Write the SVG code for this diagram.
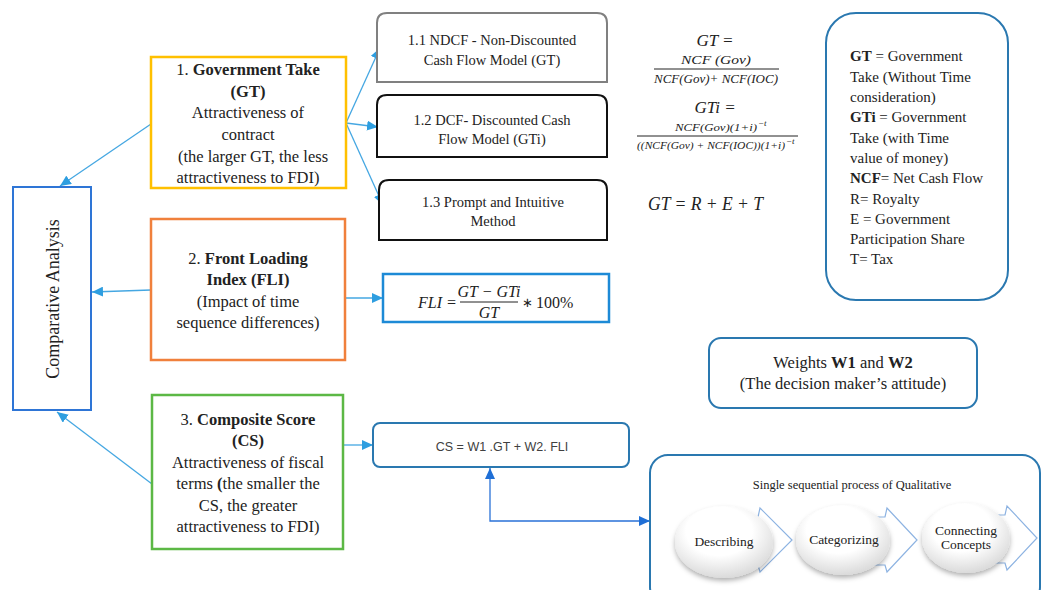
<svg xmlns="http://www.w3.org/2000/svg" width="1042" height="590" viewBox="0 0 1042 590">
<defs>
<style>
.t{font-family:"Liberation Serif","Times New Roman",serif;fill:#222;}
.m{font-family:"Liberation Serif","Times New Roman",serif;font-style:italic;fill:#222;}
.s{font-family:"Liberation Sans",Arial,sans-serif;fill:#404040;}
.b{font-weight:bold;}
.c{text-anchor:middle;}
.con{fill:none;stroke:#45a7e2;stroke-width:1.3;}
.dbl{fill:none;stroke:#2a72d8;stroke-width:1.3;}
.chev{fill:#fff;stroke:#8db3e2;stroke-width:1.2;}
</style>
<marker id="ah" markerUnits="userSpaceOnUse" markerWidth="12" markerHeight="10" refX="11" refY="5" orient="auto">
<path d="M0,0 L11,5 L0,10 z" fill="#2e9ee0"/>
</marker>
<marker id="ah2" markerUnits="userSpaceOnUse" markerWidth="12" markerHeight="10" refX="11" refY="5" orient="auto-start-reverse">
<path d="M0,0 L11,5 L0,10 z" fill="#1f6fd6"/>
</marker>
<radialGradient id="eg" cx="0.45" cy="0.35" r="0.75">
<stop offset="0.45" stop-color="#ffffff"/>
<stop offset="1" stop-color="#cfcfcf"/>
</radialGradient>
<filter id="sh" x="-20%" y="-20%" width="140%" height="150%">
<feDropShadow dx="0" dy="3" stdDeviation="2.5" flood-color="#000" flood-opacity="0.3"/>
</filter>
</defs>
<rect x="0" y="0" width="1042" height="590" fill="#fff"/>

<g id="connectors">
<path class="con" d="M151,124 L60,186" marker-end="url(#ah)"/>
<path class="con" d="M151,290 L92,292" marker-end="url(#ah)"/>
<path class="con" d="M152,484 L57,412" marker-end="url(#ah)"/>
<path class="con" d="M346,123 L380,48" marker-end="url(#ah)"/>
<path class="con" d="M346,123 L378,127" marker-end="url(#ah)"/>
<path class="con" d="M346,123 L383,205" marker-end="url(#ah)"/>
<path class="con" d="M345,298 L383,298" marker-end="url(#ah)"/>
<path class="con" d="M343,445 L373,445" marker-end="url(#ah)"/>
<path class="dbl" d="M490,468 V521 H650" marker-start="url(#ah2)" marker-end="url(#ah2)"/>
</g>

<g id="comparative">
<rect x="13" y="187" width="78" height="223" fill="#fff" stroke="#2e75d6" stroke-width="2"/>
<text class="t c" font-size="18" transform="translate(59,299) rotate(-90)">Comparative Analysis</text>
</g>

<g id="gt">
<rect x="151" y="57" width="195" height="131" fill="#fff" stroke="#ffc000" stroke-width="2.5"/>
<text class="t c" font-size="16.5" x="248" y="75">1. <tspan class="b">Government Take</tspan></text>
<text class="t c b" font-size="16.5" x="248" y="97">(GT)</text>
<text class="t c" font-size="16.5" x="248" y="118">Attractiveness of</text>
<text class="t c" font-size="16.5" x="248" y="140">contract</text>
<text class="t c" font-size="16.5" x="253" y="162">(the larger GT, the less</text>
<text class="t c" font-size="16.5" x="248" y="183">attractiveness to  FDI)</text>
</g>

<g id="fli">
<rect x="151" y="219" width="194" height="141" fill="#fff" stroke="#f0803c" stroke-width="2.5"/>
<text class="t c" font-size="16.5" x="248" y="264">2. <tspan class="b">Front Loading</tspan></text>
<text class="t c b" font-size="16.5" x="248" y="285">Index (FLI)</text>
<text class="t c" font-size="16.5" x="248" y="307">(Impact of time</text>
<text class="t c" font-size="16.5" x="248" y="328">sequence differences)</text>
</g>

<g id="cs">
<rect x="152" y="395" width="191" height="154" fill="#fff" stroke="#5cb845" stroke-width="2.5"/>
<text class="t c" font-size="16.5" x="248" y="425">3. <tspan class="b">Composite Score</tspan></text>
<text class="t c b" font-size="16.5" x="248" y="446">(CS)</text>
<text class="t c" font-size="16.5" x="248" y="468">Attractiveness of fiscal</text>
<text class="t c" font-size="16.5" x="248" y="489">terms <tspan class="b">(</tspan>the smaller the</text>
<text class="t c" font-size="16.5" x="248" y="511">CS, the greater</text>
<text class="t c" font-size="16.5" x="248" y="532">attractiveness to FDI)</text>
</g>

<g id="ndcf">
<path d="M377,82 V23 Q377,13 387,13 H597 Q607,13 607,23 V82 Z" fill="#fff" stroke="#808080" stroke-width="2"/>
<text class="t c" font-size="14.5" x="492" y="45">1.1 NDCF - Non-Discounted</text>
<text class="t c" font-size="14.5" x="492" y="65">Cash Flow Model (GT)</text>
</g>

<g id="dcf">
<path d="M377,157 V105 Q377,95 387,95 H597 Q607,95 607,105 V157 Z" fill="#fff" stroke="#111" stroke-width="2"/>
<text class="t c" font-size="14.5" x="492" y="125">1.2 DCF- Discounted Cash</text>
<text class="t c" font-size="14.5" x="492" y="144">Flow Model (GTi)</text>
</g>

<g id="prompt">
<path d="M379,240 V190 Q379,180 389,180 H597 Q607,180 607,190 V240 Z" fill="#fff" stroke="#111" stroke-width="2"/>
<text class="t c" font-size="14.5" x="493" y="207">1.3 Prompt and Intuitive</text>
<text class="t c" font-size="14.5" x="493" y="226">Method</text>
</g>

<g id="formulas">
<text class="m c" font-size="17" x="715" y="46">GT =</text>
<text class="m c" font-size="11.5" x="716" y="64" textLength="70" lengthAdjust="spacingAndGlyphs">NCF (Gov)</text>
<line x1="654" y1="69" x2="779" y2="69" stroke="#222" stroke-width="1"/>
<text class="m c" font-size="11.5" x="716" y="83" textLength="124" lengthAdjust="spacingAndGlyphs">NCF(Gov)+ NCF(IOC)</text>
<text class="m c" font-size="17" x="715" y="113">GTi =</text>
<text class="m" font-size="10.5" x="675" y="131" textLength="82" lengthAdjust="spacingAndGlyphs">NCF(Gov)(1+i)</text>
<text class="m" font-size="9" x="758" y="126">−t</text>
<line x1="637" y1="136" x2="798" y2="136" stroke="#222" stroke-width="1"/>
<text class="m" font-size="10.5" x="637" y="149" textLength="148" lengthAdjust="spacingAndGlyphs">((NCF(Gov) + NCF(IOC))(1+i)</text>
<text class="m" font-size="9" x="786" y="144">−t</text>
<text class="m" font-size="18" x="648" y="210" textLength="115" lengthAdjust="spacingAndGlyphs">GT = R + E + T</text>
</g>

<g id="definitions">
<rect x="826" y="13" width="182" height="287" rx="30" fill="#fff" stroke="#2a78b0" stroke-width="2"/>
<text class="t" font-size="15" x="850" y="61"><tspan class="b">GT</tspan> = Government</text>
<text class="t" font-size="15" x="850" y="82">Take (Without  Time</text>
<text class="t" font-size="15" x="850" y="102">consideration)</text>
<text class="t" font-size="15" x="850" y="122"><tspan class="b">GTi</tspan> = Government</text>
<text class="t" font-size="15" x="850" y="143">Take (with Time</text>
<text class="t" font-size="15" x="850" y="163">value of money)</text>
<text class="t" font-size="15" x="850" y="183"><tspan class="b">NCF</tspan>= Net Cash Flow</text>
<text class="t" font-size="15" x="850" y="204">R= Royalty</text>
<text class="t" font-size="15" x="850" y="224">E = Government</text>
<text class="t" font-size="15" x="850" y="244">Participation  Share</text>
<text class="t" font-size="15" x="850" y="264">T= Tax</text>
</g>

<g id="fli-formula">
<rect x="383" y="274" width="226" height="48" fill="#fff" stroke="#1d8ad6" stroke-width="2.5"/>
<text class="m" font-size="16" x="418" y="308">FLI =</text>
<text class="m c" font-size="16" x="489" y="297">GT − GTi</text>
<line x1="460" y1="302" x2="518" y2="302" stroke="#222" stroke-width="1"/>
<text class="m c" font-size="16" x="489" y="318">GT</text>
<text class="t" font-size="13" x="522" y="307">∗</text>
<text class="t" font-size="16" x="536" y="308">100%</text>
</g>

<g id="cs-formula">
<rect x="373" y="423" width="256" height="44" rx="7" fill="#fff" stroke="#2a78b0" stroke-width="2"/>
<text class="s c" font-size="12.5" x="502" y="451">CS = W1 .GT + W2. FLI</text>
</g>

<g id="weights">
<rect x="709" y="338" width="268" height="70" rx="12" fill="#fff" stroke="#2a78b0" stroke-width="2"/>
<text class="t c" font-size="16.5" x="843" y="368">Weights <tspan class="b">W1</tspan> and <tspan class="b">W2</tspan></text>
<text class="t c" font-size="16.5" x="843" y="389">(The decision maker’s attitude)</text>
</g>

<g id="qualitative">
<rect x="650" y="455" width="390" height="150" rx="18" fill="#fff" stroke="#2a78b0" stroke-width="2"/>
<text class="t c" font-size="12.5" x="852" y="489">Single sequential process of Qualitative</text>
<polygon class="chev" points="730,517 758,517 760,508 792,540 760,572 758,565 730,565"/>
<polygon class="chev" points="855,517 885,517 887,508 917,540 887,572 885,565 855,565"/>
<polygon class="chev" points="975,515 1005,515 1007,506 1037,538 1007,570 1005,563 975,563"/>
</g>

<g id="describing">
<ellipse cx="724" cy="542" rx="49" ry="36" fill="url(#eg)" filter="url(#sh)"/>
<text class="t c" font-size="13.5" x="724" y="546">Describing</text>
</g>
<g id="categorizing">
<ellipse cx="843" cy="540" rx="47" ry="35" fill="url(#eg)" filter="url(#sh)"/>
<text class="t c" font-size="13.5" x="844" y="544">Categorizing</text>
</g>
<g id="connecting">
<ellipse cx="966" cy="538" rx="44" ry="35" fill="url(#eg)" filter="url(#sh)"/>
<text class="t c" font-size="13.5" x="966" y="535">Connecting</text>
<text class="t c" font-size="13.5" x="966" y="549">Concepts</text>
</g>
</svg>
